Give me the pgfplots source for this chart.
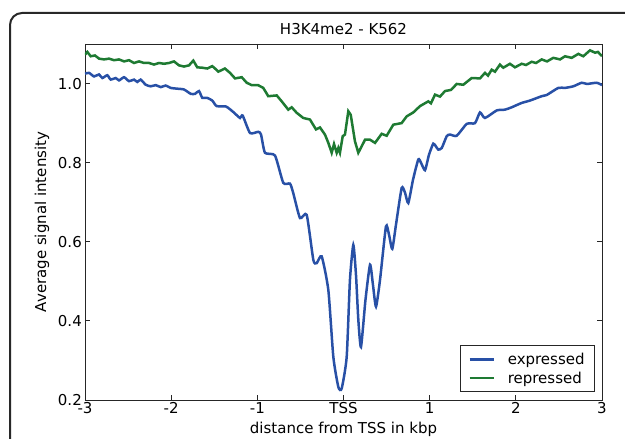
\documentclass[border=0pt]{standalone}
\usepackage{pgfplots}
\pgfplotsset{compat=1.18}
\usepackage{fontspec}
\setmainfont{DejaVu Sans}
\definecolor{expblue}{RGB}{40,80,166}
\definecolor{repgreen}{RGB}{30,122,50}
\definecolor{framegray}{RGB}{40,40,40}
\begin{document}
\begin{tikzpicture}[x=1pt,y=1pt]
\useasboundingbox (0,0) rectangle (625,439);
\begin{scope}
\clip (0,0) rectangle (625,439);
\draw[framegray, line width=2pt, rounded corners=12pt] (10,426) rectangle (660,-40);
\end{scope}
\begin{axis}[
  at={(85pt,39pt)}, anchor=south west,
  scale only axis, width=517pt, height=356pt,
  xmin=-3, xmax=3, ymin=0.2, ymax=1.1,
  font=\fontsize{15}{18}\selectfont,
  xtick={-3,-2,-1,0,1,2,3},
  xticklabels={-3,-2,-1,TSS,1,2,3},
  ytick={0.2,0.4,0.6,0.8,1.0},
  yticklabels={0.2,0.4,0.6,0.8,1.0},
  tick align=inside, major tick length=5pt,
  xtick pos=both, ytick pos=both,
  xticklabel pos=bottom, yticklabel pos=left,
  axis line style={black!85, line width=0.8pt},
  tick style={black!85, line width=0.8pt},
  xticklabel style={anchor=base, yshift=-13.5pt, inner sep=0pt},
  yticklabel style={anchor=east, inner sep=0pt, xshift=-3pt},
  title={H3K4me2 - K562},
  title style={at={(axis description cs:0.5,1)}, anchor=base, yshift=3.5pt, inner sep=0pt},
  xlabel={distance from TSS in kbp},
  xlabel style={at={(axis description cs:0.5,0)}, anchor=base, yshift=-34pt, inner sep=0pt},
  ylabel={Average signal intensity},
  ylabel style={at={(axis description cs:-0.0832,0.5)}, anchor=center, rotate=0, inner sep=0pt},
  legend style={at={(axis description cs:1,0)}, anchor=south east, xshift=-7pt, yshift=8pt,
    draw=black!85, line width=0.8pt, inner xsep=8pt, inner ysep=5pt,
    font=\fontsize{15}{18}\selectfont, row sep=2pt,
    /tikz/every odd column/.append style={column sep=11pt}},
  legend cell align=left,
  legend image code/.code={\draw[#1, line width=2.5pt] (0pt,0pt) -- (24pt,0pt);},
]
\addplot[expblue, line width=2.5pt, smooth, tension=0.35] coordinates {
(-3.000,1.025) (-2.953,1.027) (-2.895,1.018) (-2.837,1.023) (-2.799,1.014)
(-2.741,1.021) (-2.702,1.010) (-2.644,1.014) (-2.605,1.008) (-2.547,1.016)
(-2.489,1.006) (-2.431,1.010) (-2.393,1.004) (-2.354,1.010) (-2.295,0.997)
(-2.237,0.993) (-2.179,0.996) (-2.121,0.991) (-2.063,0.995) (-2.005,0.989)
(-1.929,0.987) (-1.851,0.985) (-1.773,0.974) (-1.723,0.974) (-1.677,0.981)
(-1.639,0.964) (-1.584,0.964) (-1.523,0.957) (-1.472,0.943) (-1.364,0.942)
(-1.279,0.928) (-1.201,0.913) (-1.170,0.919) (-1.085,0.875) (-0.989,0.878)
(-0.957,0.871) (-0.911,0.825) (-0.795,0.818) (-0.699,0.749)
(-0.621,0.747) (-0.583,0.723) (-0.505,0.660) (-0.427,0.668) (-0.350,0.554)
(-0.311,0.546) (-0.253,0.563) (-0.176,0.478) (-0.118,0.309) (-0.060,0.233)
(-0.021,0.229) (0.037,0.309) (0.075,0.504) (0.114,0.592) (0.145,0.516)
(0.172,0.403) (0.203,0.334) (0.255,0.453) (0.308,0.542) (0.342,0.491)
(0.377,0.436) (0.424,0.504) (0.493,0.639) (0.528,0.618) (0.566,0.582)
(0.609,0.643) (0.675,0.736) (0.714,0.724) (0.752,0.698) (0.807,0.757)
(0.868,0.808) (0.899,0.800) (0.946,0.781) (0.992,0.820) (1.042,0.848)
(1.073,0.841) (1.100,0.833) (1.140,0.837) (1.198,0.867) (1.236,0.871)
(1.314,0.868) (1.430,0.898) (1.526,0.900) (1.584,0.927) (1.642,0.913)
(1.778,0.932) (1.874,0.934) (1.952,0.940) (2.068,0.951) (2.164,0.957)
(2.300,0.968) (2.358,0.971) (2.493,0.989) (2.570,0.989) (2.667,0.993)
(2.764,1.002) (2.826,0.999) (2.938,1.002) (3.000,0.996)
};
\addlegendentry{expressed}
\addplot[repgreen, line width=2.5pt] coordinates {
(-3.000,1.073) (-2.973,1.080) (-2.934,1.069) (-2.884,1.071) (-2.837,1.063)
(-2.779,1.061) (-2.721,1.063) (-2.663,1.059) (-2.605,1.061) (-2.547,1.056)
(-2.489,1.059) (-2.431,1.052) (-2.373,1.056) (-2.315,1.052) (-2.257,1.052)
(-2.199,1.048) (-2.141,1.052) (-2.083,1.050) (-2.025,1.052) (-1.967,1.056)
(-1.909,1.046) (-1.851,1.043) (-1.793,1.046) (-1.743,1.058) (-1.697,1.041)
(-1.639,1.040) (-1.581,1.038) (-1.523,1.044) (-1.491,1.038) (-1.453,1.030)
(-1.376,1.038) (-1.317,1.027) (-1.259,1.013) (-1.181,1.016) (-1.123,1.002)
(-1.065,0.996) (-0.992,0.996) (-0.931,0.989) (-0.873,0.968) (-0.775,0.970)
(-0.717,0.955) (-0.641,0.934) (-0.601,0.940) (-0.543,0.926) (-0.467,0.913)
(-0.389,0.909) (-0.319,0.884) (-0.273,0.889) (-0.215,0.871) (-0.176,0.850)
(-0.137,0.825) (-0.110,0.847) (-0.079,0.825) (-0.060,0.837) (-0.041,0.825)
(-0.009,0.867) (0.017,0.871) (0.056,0.930) (0.084,0.921) (0.133,0.854)
(0.172,0.825) (0.250,0.858) (0.308,0.858) (0.366,0.850) (0.443,0.873)
(0.501,0.868) (0.578,0.896) (0.675,0.900) (0.733,0.917) (0.810,0.927)
(0.888,0.943) (0.984,0.955) (1.015,0.950) (1.062,0.972) (1.120,0.967)
(1.178,0.981) (1.248,0.984) (1.314,0.999) (1.390,0.997) (1.488,1.014)
(1.584,1.013) (1.642,1.027) (1.677,1.020) (1.720,1.035) (1.758,1.030)
(1.816,1.048) (1.854,1.040) (1.932,1.050) (1.990,1.041) (2.068,1.050)
(2.118,1.047) (2.184,1.055) (2.234,1.052) (2.300,1.061) (2.362,1.056)
(2.435,1.065) (2.513,1.061) (2.571,1.069) (2.648,1.065) (2.725,1.075)
(2.783,1.069) (2.861,1.084) (2.919,1.078) (2.953,1.080) (3.000,1.069)
};
\addlegendentry{repressed}
\end{axis}
\end{tikzpicture}
\end{document}
